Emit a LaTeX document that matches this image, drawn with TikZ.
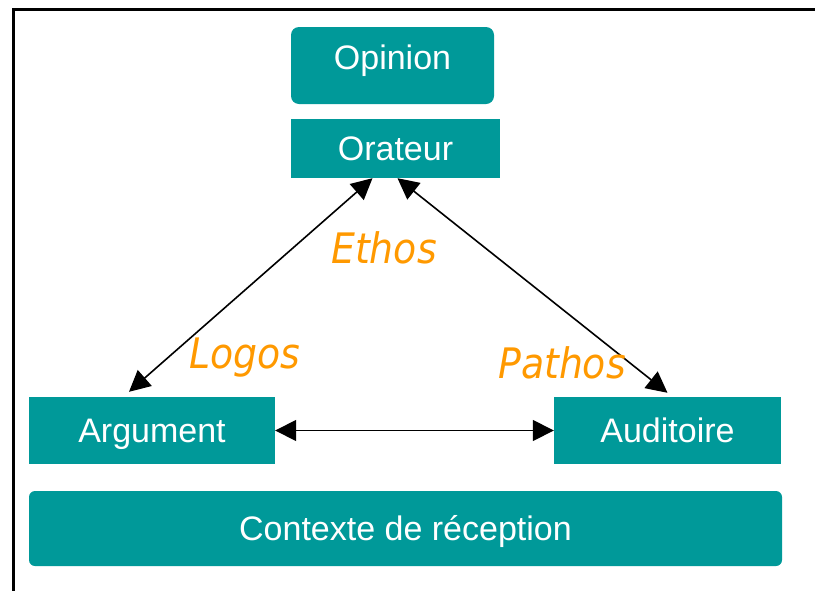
\documentclass[tikz,border=0pt]{standalone}
\usepackage{fontspec}
\setmainfont{Liberation Sans}
\newfontfamily\lblfont[FakeStretch=0.9]{DejaVu Sans}
\usetikzlibrary{arrows.meta}
\definecolor{boxteal}{HTML}{009999}
\definecolor{lblorange}{HTML}{FF9900}
\begin{document}
\begin{tikzpicture}[x=1pt,y=-1pt,
  box/.style={fill=boxteal, text=white, inner sep=0pt, text height=24.5pt, text depth=0pt, font=\fontsize{34}{40}\selectfont},
  lbl/.style={text=lblorange, font=\lblfont\itshape\fontsize{42}{50}\selectfont, anchor=base, inner sep=0pt},
  conn/.style={line width=1.6pt, {Triangle[length=21pt,width=21pt]}-{Triangle[length=21pt,width=21pt]}}]
\useasboundingbox (0,0) rectangle (815,590);
\draw[line width=3pt] (13,600) -- (13,9.5) -- (830,9.5);
\node[box, minimum width=203pt, minimum height=77pt, rounded corners=8pt, text depth=16pt] (op) at (392.5,65.5) {Opinion};
\node[box, minimum width=209pt, minimum height=59pt] (or) at (395.5,148.5) {Orateur};
\node[box, minimum width=246pt, minimum height=67pt] (arg) at (152,430.5) {Argument};
\node[box, minimum width=227pt, minimum height=67pt] (aud) at (667.5,430.5) {Auditoire};
\node[box, minimum width=753pt, minimum height=75pt, rounded corners=6pt] (ctx) at (405.5,528.5) {Contexte de réception};
\draw[conn] ([xshift=-23pt]or.south) -- ([xshift=-23pt,yshift=5pt]arg.north);
\draw[conn] ([xshift=2pt]or.south) -- ([yshift=4pt]aud.north);
\draw[conn] (arg.east) -- (aud.west);
\node[lbl] (eth) at (384,263) {Ethos};
\node[lbl] (log) at (245,368) {Logos};
\node[lbl] (pat) at (562,378) {Pathos};
\end{tikzpicture}
\end{document}
